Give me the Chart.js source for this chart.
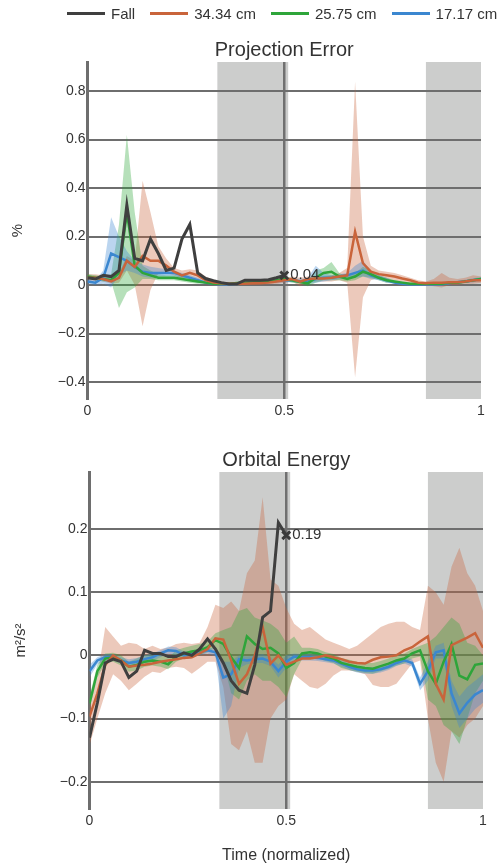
<!DOCTYPE html>
<html>
<head>
<meta charset="utf-8">
<script src="https://cdn.jsdelivr.net/npm/chart.js@4.4.0/dist/chart.umd.min.js"></script>
<style>
    body {
        margin: 0;
        width: 499px;
        height: 865px;
        background: #fff;
        position: relative;
        overflow: hidden;
        font-family: 'Liberation Sans', Arial, sans-serif;
    }

    #graficoErro { position: absolute; left: 0; top: 0; }
    #graficoEnergia { position: absolute; left: 0; top: 430px; }

    #legenda {
        position: absolute;
        top: 5px;
        left: 67px;
        display: flex;
        align-items: center;
        font-size: 15px;
        color: #333;
        white-space: nowrap;
        z-index: 2;
    }

    .item { display: flex; align-items: center; margin-right: 15px; }
    .linha { display: inline-block; width: 38px; height: 3px; margin-right: 6px; }
</style>
</head>
<body>
<canvas id="graficoErro" width="499" height="430"></canvas>
<canvas id="graficoEnergia" width="499" height="435"></canvas>
<div id="legenda"></div>

<script>
const tempo = [0, 0.02, 0.04, 0.06, 0.08, 0.1, 0.12, 0.14, 0.16, 0.18, 0.2, 0.22, 0.24, 0.26, 0.28, 0.3, 0.32, 0.34, 0.36, 0.38, 0.4, 0.42, 0.44, 0.46, 0.48, 0.5, 0.52, 0.54, 0.56, 0.58, 0.6, 0.62, 0.64, 0.66, 0.68, 0.7, 0.72, 0.74, 0.76, 0.78, 0.8, 0.82, 0.84, 0.86, 0.88, 0.9, 0.92, 0.94, 0.96, 0.98, 1];

const nomes = ['Fall', '34.34 cm', '25.75 cm', '17.17 cm'];
const cores = ['#3f3f3f', '#c9643b', '#2ea53a', '#3b87d0'];
const coresFaixa = ['', 'rgba(201, 100, 59, .35)', 'rgba(46, 165, 58, .35)', 'rgba(59, 135, 208, .35)'];

const ticksX = [0, 0.5, 1];
const ticksErro = [-0.4, -0.2, 0, 0.2, 0.4, 0.6, 0.8];
const ticksEnergia = [-0.2, -0.1, 0, 0.1, 0.2];
const regioesCinza = [[0.33, 0.51], [0.86, 1]];
const instanteMarcador = 0.5;

// Projection Error (%)
const erroQueda = [0.03, 0.025, 0.04, 0.035, 0.06, 0.33, 0.11, 0.1, 0.19, 0.13, 0.06, 0.07, 0.19, 0.25, 0.05, 0.027, 0.018, 0.01, 0.004, 0.005, 0.02, 0.02, 0.02, 0.022, 0.03, 0.04];
const erro34 = [0.03, 0.03, 0.025, 0.015, 0.03, 0.1, 0.075, 0.12, 0.1, 0.1, 0.08, 0.055, 0.04, 0.05, 0.04, 0.02, 0.01, 0.007, 0.005, 0.005, 0.005, 0.007, 0.008, 0.01, 0.015, 0.02, 0.025, 0.014, 0.025, 0.027, 0.027, 0.03, 0.035, 0.04, 0.22, 0.09, 0.055, 0.045, 0.04, 0.035, 0.027, 0.02, 0.01, 0.007, 0.01, 0.01, 0.012, 0.012, 0.015, 0.02, 0.02];
const erro34Min = [0.015, 0.02, 0.015, 0.005, 0.01, 0.06, 0.0, -0.17, -0.02, 0.05, 0.05, 0.04, 0.025, 0.035, 0.025, 0.01, 0.0, 0.0, 0.0, 0.0, 0.0, 0.0, 0.0, 0.003, 0.005, 0.01, 0.015, -0.005, 0.01, 0.015, 0.015, 0.015, 0.02, 0.01, -0.38, -0.05, 0.02, 0.03, 0.025, 0.02, 0.015, 0.01, 0.0, 0.0, -0.005, -0.01, 0.0, 0.0, 0.005, 0.005, 0.01];
const erro34Max = [0.045, 0.045, 0.04, 0.03, 0.05, 0.12, 0.1, 0.43, 0.3, 0.16, 0.11, 0.07, 0.06, 0.065, 0.06, 0.035, 0.02, 0.015, 0.01, 0.01, 0.01, 0.012, 0.015, 0.018, 0.025, 0.03, 0.035, 0.03, 0.035, 0.035, 0.035, 0.04, 0.05, 0.07, 0.84, 0.2, 0.08, 0.06, 0.055, 0.05, 0.04, 0.03, 0.02, 0.015, 0.025, 0.05, 0.03, 0.025, 0.03, 0.04, 0.035];
const erro25 = [0.035, 0.03, 0.025, 0.02, 0.05, 0.3, 0.08, 0.05, 0.04, 0.03, 0.03, 0.03, 0.025, 0.02, 0.015, 0.01, 0.005, 0.005, 0.005, 0.008, 0.01, 0.012, 0.015, 0.018, 0.02, 0.025, 0.02, 0.012, 0.007, 0.03, 0.05, 0.055, 0.035, 0.025, 0.035, 0.055, 0.045, 0.03, 0.02, 0.015, 0.01, 0.005, 0.005, 0.005, 0.005, 0.005, 0.01, 0.01, 0.015, 0.02, 0.025];
const erro25Min = [0.025, 0.02, 0.015, 0.015, -0.095, -0.03, -0.01, 0.025, 0.025, 0.02, 0.02, 0.02, 0.015, 0.01, 0.005, 0.005, 0.0, 0.0, 0.0, 0.003, 0.005, 0.006, 0.008, 0.01, 0.012, 0.018, 0.01, 0.005, -0.005, 0.01, 0.02, 0.02, 0.02, 0.015, 0.02, 0.035, 0.03, 0.02, 0.01, 0.008, 0.004, 0.0, 0.0, 0.0, 0.0, 0.0, 0.005, 0.005, 0.01, 0.015, 0.02];
const erro25Max = [0.045, 0.04, 0.035, 0.045, 0.25, 0.62, 0.3, 0.08, 0.06, 0.045, 0.04, 0.04, 0.035, 0.03, 0.025, 0.015, 0.01, 0.01, 0.01, 0.012, 0.015, 0.018, 0.02, 0.025, 0.028, 0.032, 0.03, 0.02, 0.02, 0.06, 0.07, 0.095, 0.05, 0.035, 0.05, 0.075, 0.06, 0.04, 0.03, 0.02, 0.015, 0.01, 0.01, 0.01, 0.01, 0.01, 0.015, 0.015, 0.02, 0.025, 0.03];
const erro17 = [0.015, 0.01, 0.03, 0.13, 0.115, 0.1, 0.075, 0.055, 0.05, 0.05, 0.05, 0.05, 0.04, 0.03, 0.02, 0.01, 0.005, 0.003, 0.003, 0.005, 0.008, 0.01, 0.012, 0.015, 0.018, 0.02, 0.02, 0.015, 0.015, 0.025, 0.03, 0.03, 0.035, 0.04, 0.05, 0.06, 0.04, 0.03, 0.02, 0.01, 0.005, 0.003, 0.003, 0.003, 0.003, 0.003, 0.008, 0.012, 0.015, 0.02, 0.025];
const erro17Min = [0.005, 0.0, 0.005, -0.01, 0.04, 0.06, 0.05, 0.035, 0.03, 0.035, 0.035, 0.035, 0.03, 0.02, 0.01, 0.005, 0.0, -0.002, -0.002, 0.0, 0.002, 0.004, 0.005, 0.008, 0.01, 0.012, 0.012, 0.008, 0.005, 0.01, 0.015, 0.02, 0.025, 0.03, 0.03, 0.035, 0.025, 0.02, 0.01, 0.005, 0.0, -0.002, -0.002, -0.002, -0.002, -0.002, 0.004, 0.006, 0.008, 0.012, 0.018];
const erro17Max = [0.025, 0.02, 0.06, 0.28, 0.2, 0.14, 0.1, 0.085, 0.075, 0.07, 0.065, 0.06, 0.05, 0.04, 0.03, 0.015, 0.01, 0.008, 0.008, 0.01, 0.015, 0.02, 0.02, 0.022, 0.025, 0.028, 0.028, 0.025, 0.03, 0.08, 0.05, 0.04, 0.045, 0.05, 0.08, 0.1, 0.06, 0.04, 0.03, 0.015, 0.01, 0.008, 0.008, 0.008, 0.008, 0.008, 0.012, 0.018, 0.022, 0.028, 0.032];

// Orbital Energy (m²/s²)
const energiaQueda = [-0.13, -0.075, -0.012, -0.006, -0.01, -0.035, -0.025, 0.008, 0.003, 0.003, -0.002, -0.002, 0.004, 0.0, 0.01, 0.026, 0.01, -0.012, -0.04, -0.055, -0.06, -0.015, 0.06, 0.07, 0.21, 0.19];
const energia34 = [-0.097, -0.06, -0.015, 0.0, -0.008, -0.018, -0.016, -0.015, -0.013, -0.01, -0.008, -0.006, -0.004, -0.003, 0.003, 0.01, 0.027, 0.025, -0.008, -0.045, -0.03, 0.0, 0.045, -0.013, 0.0, -0.015, -0.01, -0.005, -0.005, -0.003, 0.0, -0.003, -0.006, -0.01, -0.012, -0.013, -0.007, -0.003, -0.002, 0.0, 0.008, 0.013, 0.022, 0.03, -0.045, -0.07, 0.016, 0.022, 0.028, 0.035, 0.012];
const energia34Min = [-0.142, -0.1, -0.06, -0.03, -0.04, -0.055, -0.045, -0.034, -0.026, -0.028, -0.02, -0.018, -0.02, -0.029, -0.02, -0.01, -0.01, -0.05, -0.14, -0.15, -0.12, -0.17, -0.17, -0.1, -0.08, -0.07, -0.03, -0.04, -0.05, -0.053, -0.045, -0.032, -0.024, -0.024, -0.026, -0.03, -0.047, -0.05, -0.05, -0.045, -0.029, -0.013, -0.008, -0.1, -0.17, -0.2, -0.12, -0.13, -0.11, -0.1, -0.08];
const energia34Max = [-0.08, -0.035, 0.045, 0.03, 0.015, 0.02, 0.018, 0.01, 0.015, 0.01, 0.012, 0.018, 0.02, 0.018, 0.02, 0.045, 0.08, 0.075, 0.085, 0.07, 0.13, 0.15, 0.25, 0.12, 0.11, 0.075, 0.05, 0.04, 0.045, 0.035, 0.025, 0.02, 0.015, 0.01, 0.015, 0.025, 0.035, 0.045, 0.05, 0.053, 0.053, 0.045, 0.04, 0.11, 0.1, 0.08, 0.14, 0.17, 0.13, 0.11, 0.07];
const energia25 = [-0.076, -0.025, -0.005, -0.003, -0.008, -0.018, -0.015, -0.01, -0.008, -0.01, -0.014, -0.002, 0.003, 0.006, 0.008, 0.013, 0.024, 0.018, -0.003, -0.02, 0.03, 0.018, 0.01, 0.012, 0.003, -0.02, -0.012, 0.003, 0.005, 0.003, -0.002, -0.005, -0.012, -0.015, -0.018, -0.02, -0.021, -0.017, -0.013, -0.008, -0.005, 0.003, 0.008, -0.025, -0.045, -0.01, 0.018, -0.032, -0.038, -0.015, -0.013];
const energia25Min = [-0.085, -0.035, -0.012, -0.01, -0.016, -0.026, -0.024, -0.018, -0.016, -0.018, -0.022, -0.01, -0.005, -0.002, 0.0, 0.005, 0.012, -0.01, -0.06, -0.07, -0.04, -0.03, -0.04, -0.04, -0.05, -0.066, -0.03, -0.006, -0.004, -0.005, -0.009, -0.012, -0.02, -0.023, -0.026, -0.028, -0.029, -0.025, -0.021, -0.016, -0.013, -0.005, -0.002, -0.07, -0.08, -0.11, -0.12, -0.14, -0.1, -0.06, -0.04];
const energia25Max = [-0.065, -0.015, 0.003, 0.004, 0.0, -0.01, -0.005, 0.0, 0.002, 0.0, -0.004, 0.008, 0.012, 0.015, 0.018, 0.022, 0.035, 0.04, 0.045, 0.07, 0.075, 0.06, 0.055, 0.05, 0.04, 0.02, 0.03, 0.012, 0.012, 0.01, 0.005, 0.002, -0.004, -0.007, -0.01, -0.012, -0.012, -0.009, -0.005, 0.0, 0.003, 0.01, 0.015, 0.02, 0.03, 0.045, 0.06, 0.05, 0.02, 0.015, 0.0];
const energia17 = [-0.025, -0.008, -0.003, -0.003, -0.008, -0.012, -0.01, -0.006, -0.003, 0.003, 0.008, 0.007, 0.0, 0.002, 0.005, 0.008, 0.005, -0.035, -0.03, -0.006, -0.008, -0.006, -0.005, -0.01, -0.025, -0.01, -0.002, -0.003, -0.003, -0.004, -0.006, -0.008, -0.013, -0.018, -0.022, -0.024, -0.024, -0.022, -0.018, -0.012, -0.008, -0.012, -0.045, -0.025, 0.005, 0.008, -0.06, -0.092, -0.075, -0.062, -0.055];
const energia17Min = [-0.035, -0.014, -0.008, -0.008, -0.013, -0.018, -0.016, -0.012, -0.009, -0.003, 0.002, 0.001, -0.006, -0.004, 0.0, 0.003, -0.002, -0.1, -0.08, -0.02, -0.014, -0.012, -0.012, -0.017, -0.035, -0.02, -0.008, -0.008, -0.008, -0.009, -0.011, -0.013, -0.018, -0.023, -0.027, -0.029, -0.029, -0.027, -0.023, -0.017, -0.013, -0.018, -0.055, -0.04, -0.005, -0.005, -0.08, -0.115, -0.1, -0.085, -0.075];
const energia17Max = [-0.015, -0.003, 0.002, 0.002, -0.003, -0.006, -0.004, 0.0, 0.003, 0.008, 0.014, 0.013, 0.006, 0.007, 0.01, 0.013, 0.01, -0.01, -0.01, 0.0, -0.002, 0.0, 0.002, -0.003, -0.015, 0.0, 0.003, 0.002, 0.002, 0.001, -0.001, -0.003, -0.008, -0.013, -0.017, -0.019, -0.019, -0.017, -0.013, -0.007, -0.003, -0.006, -0.035, -0.01, 0.015, 0.02, -0.04, -0.065, -0.05, -0.04, -0.03];


Chart.defaults.font.family = "'Liberation Sans', Arial, sans-serif";
Chart.defaults.color = '#333';

// legenda em html, em cima dos dois graficos
const legenda = document.getElementById('legenda');
nomes.forEach((nome, i) => {
    legenda.innerHTML += '<span class="item"><span class="linha" style="background:' + cores[i] + '"></span>' + nome + '</span>';
});

function pontos(serie) {
    return serie.map((v, i) => ({ x: tempo[i], y: v }));
}

function formatarTick(valor) {
    if (valor < 0) return '\u2212' + Math.abs(valor);
    return String(valor);
}

function montarDatasets(linhas, minimos, maximos) {
    const datasets = [];

    linhas.forEach((serie, i) => {
        datasets.push({
            label: nomes[i],
            data: pontos(serie),
            borderColor: cores[i],
            borderWidth: i == 0 ? 3 : 2.5,
            pointRadius: 0,
            tension: 0,
            fill: false,
            order: i
        });
    });

    for (let i = 1; i < 4; i++) {
        datasets.push({
            label: 'min ' + nomes[i],
            data: pontos(minimos[i - 1]),
            borderColor: 'rgba(0,0,0,0)',
            pointRadius: 0,
            fill: false,
            order: 20 - i
        });
        datasets.push({
            label: 'max ' + nomes[i],
            data: pontos(maximos[i - 1]),
            borderColor: 'rgba(0,0,0,0)',
            backgroundColor: coresFaixa[i],
            pointRadius: 0,
            fill: '-1',
            order: 20 - i
        });
    }

    // marcador no instante 0.5 da queda
    const iMarcador = tempo.indexOf(instanteMarcador);
    datasets.push({
        label: 'marcador',
        marcador: true,
        data: [{ x: instanteMarcador, y: linhas[0][iMarcador] }],
        showLine: false,
        pointStyle: 'crossRot',
        pointRadius: 5.5,
        pointBorderWidth: 3,
        pointBorderColor: '#3a3a3a',
        order: -1
    });

    return datasets;
}

const faixasFundo = {
    id: 'faixasFundo',
    beforeDraw(chart, args, opts) {
        const { ctx, chartArea, scales: { x } } = chart;
        ctx.save();
        ctx.fillStyle = 'rgb(204, 205, 204)';
        opts.regioes.forEach(r => {
            const x0 = x.getPixelForValue(r[0]);
            const x1 = x.getPixelForValue(r[1]);
            ctx.fillRect(x0, chartArea.top, x1 - x0, chartArea.bottom - chartArea.top);
        });
        ctx.restore();
    }
};

const rotuloMarcador = {
    id: 'rotuloMarcador',
    afterDatasetsDraw(chart) {
        const idx = chart.data.datasets.findIndex(d => d.marcador);
        const ponto = chart.getDatasetMeta(idx).data[0];
        const valor = chart.data.datasets[idx].data[0].y;
        const ctx = chart.ctx;
        ctx.save();
        ctx.font = "15px 'Liberation Sans', Arial, sans-serif";
        ctx.fillStyle = '#333';
        ctx.textAlign = 'left';
        ctx.textBaseline = 'middle';
        ctx.fillText(valor.toFixed(2), ponto.x + 6, ponto.y);
        ctx.restore();
    }
};

function montarConfig(cfg) {
    return {
        type: 'line',
        data: { datasets: cfg.datasets },
        plugins: [faixasFundo, rotuloMarcador],
        options: {
            responsive: false,
            animation: false,
            layout: { padding: { top: cfg.topo, left: 0, right: cfg.direita, bottom: 0 } },
            scales: {
                x: {
                    type: 'linear',
                    min: 0,
                    max: 1,
                    afterBuildTicks: s => { s.ticks = ticksX.map(v => ({ value: v })); },
                    afterFit: s => { s.height = cfg.alturaX; },
                    border: { display: false },
                    grid: {
                        drawTicks: false,
                        lineWidth: 2.5,
                        color: c => (c.tick && c.tick.value === instanteMarcador) ? '#707070' : 'rgba(0,0,0,0)'
                    },
                    ticks: {
                        padding: 4,
                        color: '#333',
                        maxRotation: 0,
                        font: { size: 14 },
                        callback: v => String(v)
                    },
                    title: {
                        display: cfg.tituloX != '',
                        text: cfg.tituloX,
                        color: '#333',
                        font: { size: 16 },
                        padding: { top: 0, bottom: 0 }
                    }
                },
                y: {
                    min: cfg.minY,
                    max: cfg.maxY,
                    afterBuildTicks: s => { s.ticks = cfg.ticksY.map(v => ({ value: v })); },
                    afterFit: s => { s.width = cfg.larguraY; },
                    border: { display: true, color: '#6e6e6e', width: 3 },
                    grid: { color: '#6e6e6e', lineWidth: 2, drawTicks: false },
                    ticks: {
                        padding: 2,
                        color: '#333',
                        font: { size: 14 },
                        callback: v => formatarTick(v)
                    },
                    title: {
                        display: true,
                        text: cfg.tituloY,
                        color: '#333',
                        font: { size: 15 },
                        padding: { top: cfg.recuoTituloY, bottom: 0 }
                    }
                }
            },
            plugins: {
                legend: { display: false },
                tooltip: { enabled: false },
                title: {
                    display: true,
                    text: cfg.titulo,
                    fullSize: false,
                    color: '#333',
                    font: { size: 20, weight: 'normal' },
                    padding: { top: 10, bottom: 0 }
                },
                faixasFundo: { regioes: regioesCinza }
            }
        }
    };
}

const graficoErro = new Chart(document.getElementById('graficoErro'), montarConfig({
    datasets: montarDatasets([erroQueda, erro34, erro25, erro17], [erro34Min, erro25Min, erro17Min], [erro34Max, erro25Max, erro17Max]),
    titulo: 'Projection Error',
    tituloY: '%',
    tituloX: '',
    ticksY: ticksErro,
    minY: -0.47,
    maxY: 0.92,
    topo: 28,
    direita: 18,
    alturaX: 31,
    larguraY: 87.5,
    recuoTituloY: 9
}));

const graficoEnergia = new Chart(document.getElementById('graficoEnergia'), montarConfig({
    datasets: montarDatasets([energiaQueda, energia34, energia25, energia17], [energia34Min, energia25Min, energia17Min], [energia34Max, energia25Max, energia17Max]),
    titulo: 'Orbital Energy',
    tituloY: 'm²/s²',
    tituloX: 'Time (normalized)',
    ticksY: ticksEnergia,
    minY: -0.243,
    maxY: 0.29,
    topo: 8,
    direita: 16,
    alturaX: 56,
    larguraY: 89.5,
    recuoTituloY: 12
}));
</script>
</body>
</html>
